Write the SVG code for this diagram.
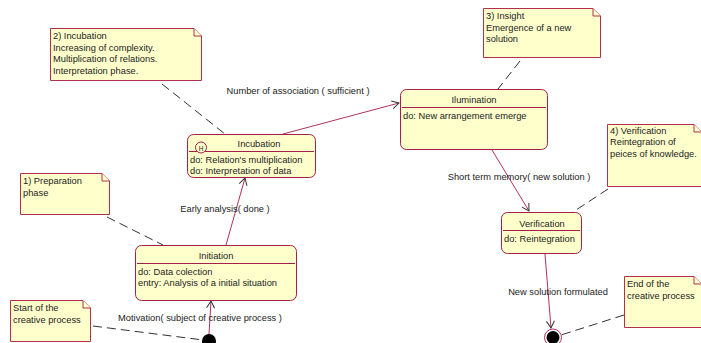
<svg xmlns="http://www.w3.org/2000/svg" width="701" height="343" viewBox="0 0 701 343">
<defs>
<style>
text{font-family:"Liberation Sans",Arial,sans-serif;font-size:9.3px;fill:#222}
.st{fill:#FFFFCC;stroke:#A3204A;stroke-width:1}
.sep{stroke:#A3204A;stroke-width:1}
.note{fill:#FFFFCC;stroke:#B03050;stroke-width:1}
.tr{fill:none;stroke:#B03060;stroke-width:1}
.lk{fill:none;stroke:#333;stroke-width:1;stroke-dasharray:9,5}
.t{text-anchor:middle}
</style>
<marker id="ah" markerWidth="10" markerHeight="10" refX="8" refY="5" orient="auto" markerUnits="userSpaceOnUse">
<path d="M1,1 L8,5 L1,9" fill="none" stroke="#333" stroke-width="1"/>
</marker>
</defs>

<g id="connectors">
<line class="tr" x1="209" y1="334" x2="211" y2="301" marker-end="url(#ah)"/>
<text x="200" y="321" class="t">Motivation( subject of creative process )</text>
<line class="tr" x1="226" y1="245" x2="245" y2="178" marker-end="url(#ah)"/>
<text x="225" y="212" class="t">Early analysis( done )</text>
<line class="tr" x1="283" y1="134" x2="399" y2="103" marker-end="url(#ah)"/>
<text x="298" y="94" class="t">Number of association ( sufficient )</text>
<line class="tr" x1="492" y1="150" x2="529" y2="211" marker-end="url(#ah)"/>
<text x="519" y="180" class="t">Short term memory( new solution )</text>
<line class="tr" x1="545" y1="254" x2="551" y2="328" marker-end="url(#ah)"/>
<text x="558" y="295" class="t">New solution formulated</text>
<line class="lk" x1="162" y1="84" x2="225" y2="134"/>
<line class="lk" x1="520" y1="61" x2="498" y2="89"/>
<line class="lk" x1="107" y1="217" x2="163" y2="245"/>
<line class="lk" x1="608" y1="189" x2="573" y2="212"/>
<line class="lk" x1="93" y1="326" x2="203" y2="340"/>
<line class="lk" x1="624" y1="315" x2="561" y2="335"/>
</g>

<g id="note-incubation">
<path class="note" d="M50.5,28.5 H194 L201.5,36 V80.5 H50.5 Z"/>
<path class="note" d="M194,28.5 V36 H201.5" fill="none"/>
<text x="53" y="39">2) Incubation</text>
<text x="53" y="50.5">Increasing of complexity.</text>
<text x="53" y="62">Multiplication of relations.</text>
<text x="53" y="73.5">Interpretation phase.</text>
</g>

<g id="note-insight">
<path class="note" d="M483.5,8.5 H593 L600.5,16 V57.5 H483.5 Z"/>
<path class="note" d="M593,8.5 V16 H600.5" fill="none"/>
<text x="486" y="19">3) Insight</text>
<text x="486" y="30.5">Emergence of a new</text>
<text x="486" y="42">solution</text>
</g>

<g id="note-preparation">
<path class="note" d="M20.5,173.5 H102 L109.5,181 V214.5 H20.5 Z"/>
<path class="note" d="M102,173.5 V181 H109.5" fill="none"/>
<text x="23" y="184">1) Preparation</text>
<text x="23" y="195.5">phase</text>
</g>

<g id="note-verification">
<path class="note" d="M607.5,124.5 H694 L701.5,132 V186.5 H607.5 Z"/>
<path class="note" d="M694,124.5 V132 H701.5" fill="none"/>
<text x="610" y="133.5">4) Verification</text>
<text x="610" y="145">Reintegration of</text>
<text x="610" y="156.5">peices of knowledge.</text>
</g>

<g id="note-start">
<path class="note" d="M10.5,300.5 H83 L90.5,308 V341.5 H10.5 Z"/>
<path class="note" d="M83,300.5 V308 H90.5" fill="none"/>
<text x="13" y="311">Start of the</text>
<text x="13" y="322.5">creative process</text>
</g>

<g id="note-end">
<path class="note" d="M624.5,276.5 H694 L701.5,284 V327.5 H624.5 Z"/>
<path class="note" d="M694,276.5 V284 H701.5" fill="none"/>
<text x="627" y="287">End of the</text>
<text x="627" y="298.5">creative process</text>
</g>

<g id="state-incubation">
<rect class="st" x="187.5" y="134.5" width="128" height="43" rx="6"/>
<line class="sep" x1="189" y1="151.5" x2="314" y2="151.5"/>
<text x="259" y="147" class="t">Incubation</text>
<circle cx="201" cy="147.5" r="5.5" fill="#FFFFCC" stroke="#A3204A"/>
<text x="201" y="150.5" class="t" style="font-size:6.5px">H</text>
<text x="190" y="162.5">do: Relation's multiplication</text>
<text x="190" y="174">do: Interpretation of data</text>
</g>

<g id="state-illumination">
<rect class="st" x="400.5" y="89.5" width="147" height="60" rx="6"/>
<line class="sep" x1="402" y1="107.5" x2="546" y2="107.5"/>
<text x="474" y="103" class="t">Ilumination</text>
<text x="403" y="118.5">do: New arrangement emerge</text>
</g>

<g id="state-initiation">
<rect class="st" x="135.5" y="245.5" width="161" height="55" rx="6"/>
<line class="sep" x1="137" y1="263.5" x2="295" y2="263.5"/>
<text x="216" y="259" class="t">Initiation</text>
<text x="138" y="274.5">do: Data colection</text>
<text x="138" y="286">entry: Analysis of a initial situation</text>
</g>

<g id="state-verification">
<rect class="st" x="501.5" y="212.5" width="80" height="41" rx="6"/>
<line class="sep" x1="503" y1="230.5" x2="580" y2="230.5"/>
<text x="542" y="227" class="t">Verification</text>
<text x="504" y="241.5">do: Reintegration</text>
</g>

<g id="initial-state">
<circle cx="209" cy="341" r="7" fill="#000"/>
</g>

<g id="final-state">
<circle cx="553" cy="337.5" r="8.5" fill="#fff" stroke="#B03060"/>
<circle cx="553" cy="337.5" r="6.5" fill="#000"/>
</g>
</svg>
